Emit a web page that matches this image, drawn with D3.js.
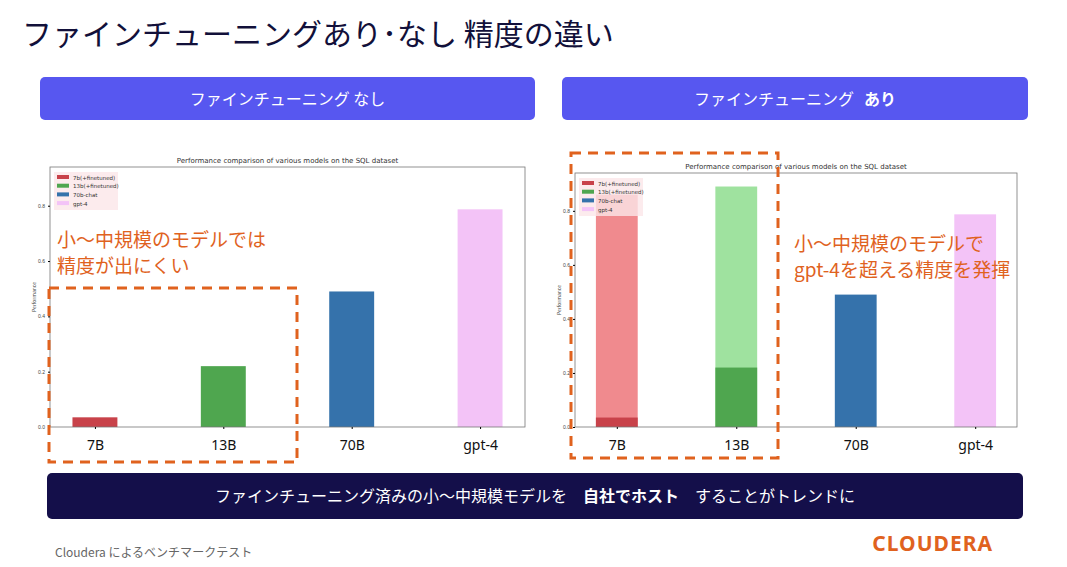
<!DOCTYPE html>
<html><head><meta charset="utf-8">
<script src="https://cdn.jsdelivr.net/npm/d3@7"></script>
<style>
body{margin:0;background:#fff;font-family:"Noto Sans CJK JP","Noto Sans",sans-serif;}
</style></head><body><div id="chart"></div>
<script>
var svgWidth = 1067, svgHeight = 567;

// data
var categories = ["7B", "13B", "70B", "gpt-4"];
var baseValues = [0.035, 0.22, 0.49, 0.787];
var finetunedValues = [0.86, 0.89, null, null];
var legendLabels = ["7b(+finetuned)", "13b(+finetuned)", "70b-chat", "gpt-4"];
var yTicks = [0, 0.2, 0.4, 0.6, 0.8];

var baseColors = ["#c8424a", "#4fa64f", "#3572ab", "#f3c3f7"];
var lightColors = ["#f08a8e", "#9fe29f", "#3572ab", "#f3c3f7"];
var orange = "#e0621e";

var svg = d3.select("#chart").append("svg")
  .attr("width", svgWidth).attr("height", svgHeight);

// title
svg.append("text").attr("x", 22).attr("y", 45)
  .attr("font-size", 30).attr("fill", "#12103a")
  .text("ファインチューニングあり･なし 精度の違い");

// header buttons
function header(x, w, label, bold) {
  svg.append("rect").attr("x", x).attr("y", 77).attr("width", w).attr("height", 43)
    .attr("rx", 5).attr("fill", "#5757f0");
  var t = svg.append("text").attr("x", x + w / 2).attr("y", 105)
    .attr("text-anchor", "middle").attr("fill", "#fff").attr("font-size", 16);
  t.append("tspan").text(label);
  if (bold) t.append("tspan").attr("dx", 10).attr("font-weight", "bold").text(bold);
}
header(40, 495, "ファインチューニング なし", null);
header(562, 466, "ファインチューニング", "あり");

function drawChart(left, right, top, showFinetuned) {
  var bottom = 427;
  var x = d3.scaleLinear().domain([-0.35, 3.35]).range([left, right]);
  var y = d3.scaleLinear().domain([0, 0.94]).range([bottom, top]);
  var bw = (x(1) - x(0)) * 0.35;
  var g = svg.append("g");

  g.append("text").attr("x", (left + right) / 2).attr("y", top - 4)
    .attr("text-anchor", "middle").attr("font-size", 7).attr("fill", "#333")
    .attr("font-family", "DejaVu Sans")
    .text("Performance comparison of various models on the SQL dataset");

  if (showFinetuned) {
    g.selectAll(".ft").data(categories).enter().append("rect")
      .filter((d, i) => finetunedValues[i] != null)
      .attr("x", d => x(categories.indexOf(d)) - bw / 2)
      .attr("y", d => y(finetunedValues[categories.indexOf(d)]))
      .attr("width", bw)
      .attr("height", d => bottom - y(finetunedValues[categories.indexOf(d)]))
      .attr("fill", d => lightColors[categories.indexOf(d)]);
  }
  g.selectAll(".base").data(categories).enter().append("rect")
    .attr("x", (d, i) => x(i) - bw / 2)
    .attr("y", (d, i) => y(baseValues[i]))
    .attr("width", bw)
    .attr("height", (d, i) => bottom - y(baseValues[i]))
    .attr("fill", (d, i) => baseColors[i]);

  g.append("rect").attr("x", left).attr("y", top).attr("width", right - left)
    .attr("height", bottom - top).attr("fill", "none").attr("stroke", "#777").attr("stroke-width", 0.8);

  var yAxis = g.append("g").attr("transform", `translate(${left},0)`)
    .call(d3.axisLeft(y).tickValues(yTicks).tickFormat(d3.format(".1f")).tickSize(2));
  yAxis.select(".domain").remove();
  yAxis.selectAll("text").attr("font-size", 5).attr("fill", "#444");

  g.append("text").attr("transform", `translate(${left - 14},${(top + bottom) / 2}) rotate(-90)`)
    .attr("text-anchor", "middle").attr("font-size", 5).attr("fill", "#444").text("Performance");

  var xAxis = g.append("g").attr("transform", `translate(0,${bottom})`)
    .call(d3.axisBottom(x).tickValues([0, 1, 2, 3]).tickFormat(i => categories[i]).tickSize(2));
  xAxis.select(".domain").remove();
  xAxis.selectAll("text").attr("font-size", 14).attr("fill", "#111")
    .attr("font-family", "Noto Sans").attr("dy", "1.3em");

  // legend
  var lg = g.append("g").attr("transform", `translate(${left + 4},${top + 5})`);
  lg.append("rect").attr("width", 64).attr("height", 38).attr("fill", "#fbe6e8").attr("opacity", 0.8);
  legendLabels.forEach(function (l, i) {
    lg.append("rect").attr("x", 3).attr("y", 3 + i * 8.7).attr("width", 12).attr("height", 4)
      .attr("fill", baseColors[i]);
    lg.append("text").attr("x", 19).attr("y", 7.5 + i * 8.7).attr("font-size", 5.5)
      .attr("fill", "#333").attr("font-family", "DejaVu Sans").text(l);
  });
}

drawChart(50, 525, 167, false);
drawChart(575, 1017, 173, true);

// dashed boxes
svg.append("rect").attr("x", 49).attr("y", 288).attr("width", 248).attr("height", 174)
  .attr("fill", "none").attr("stroke", orange).attr("stroke-width", 3).attr("stroke-dasharray", "10,7");
svg.append("rect").attr("x", 571).attr("y", 153).attr("width", 207).attr("height", 305)
  .attr("fill", "none").attr("stroke", orange).attr("stroke-width", 3).attr("stroke-dasharray", "10,7");

// annotations
svg.append("text").attr("x", 57).attr("y", 247).attr("font-size", 19).attr("fill", orange).text("小～中規模のモデルでは");
svg.append("text").attr("x", 57).attr("y", 273).attr("font-size", 19).attr("fill", orange).text("精度が出にくい");
svg.append("text").attr("x", 794).attr("y", 251).attr("font-size", 19).attr("fill", orange).text("小～中規模のモデルで");
svg.append("text").attr("x", 794).attr("y", 277).attr("font-size", 19).attr("fill", orange).text("gpt-4を超える精度を発揮");

// bottom banner
svg.append("rect").attr("x", 47).attr("y", 473).attr("width", 976).attr("height", 46)
  .attr("rx", 5).attr("fill", "#140f4a");
var bt = svg.append("text").attr("x", 535).attr("y", 502).attr("text-anchor", "middle")
  .attr("fill", "#fff").attr("font-size", 16);
bt.append("tspan").text("ファインチューニング済みの小～中規模モデルを");
bt.append("tspan").attr("dx", 16).attr("font-weight", "bold").text("自社でホスト");
bt.append("tspan").attr("dx", 16).text("することがトレンドに");

// footer
svg.append("text").attr("x", 55).attr("y", 557).attr("font-size", 12).attr("fill", "#666")
  .text("Cloudera によるベンチマークテスト");
svg.append("text").attr("x", 993).attr("y", 551).attr("text-anchor", "end").attr("font-size", 21)
  .attr("font-weight", "bold").attr("fill", orange).attr("font-family", "Noto Sans")
  .attr("letter-spacing", 1).text("CLOUDERA");
</script></body></html>
